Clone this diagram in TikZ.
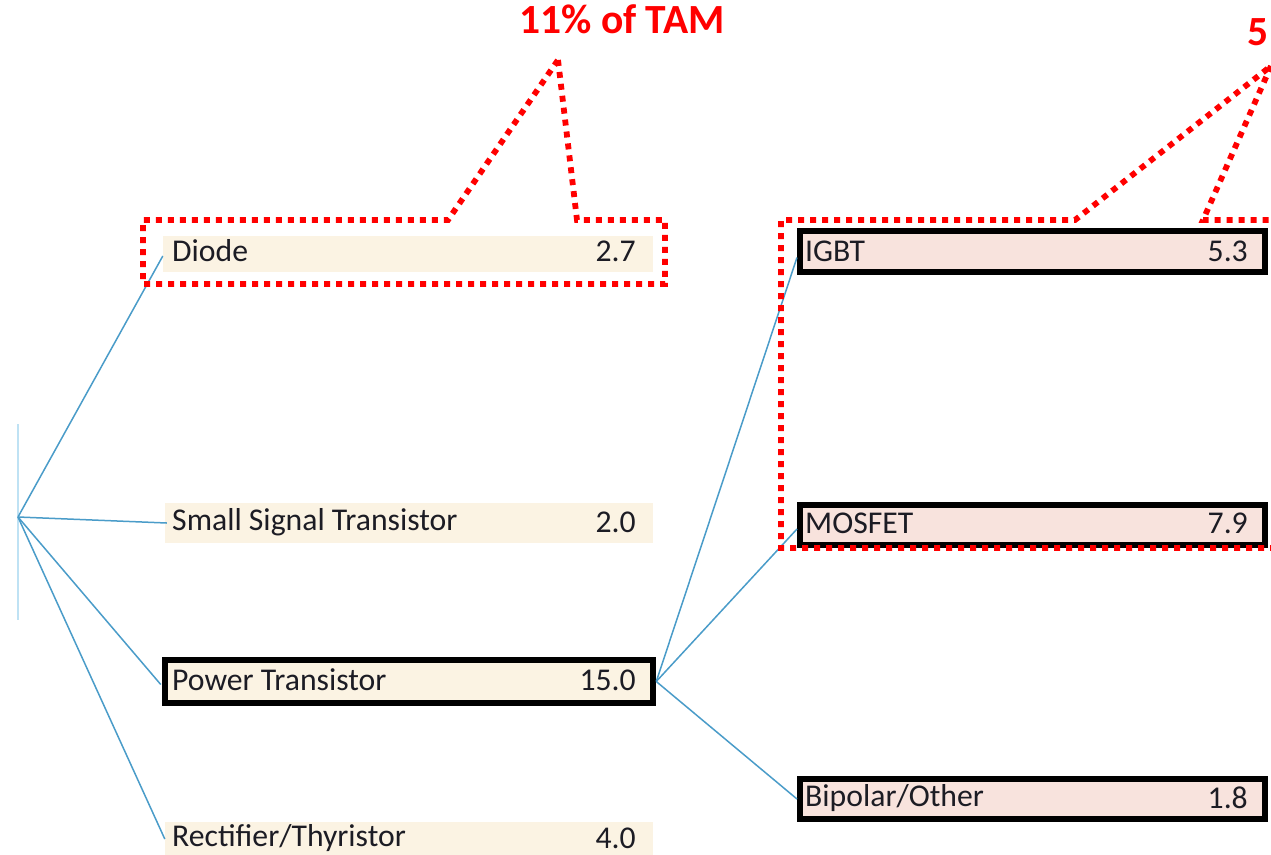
\documentclass[tikz,border=0pt]{standalone}
\usepackage{fontspec}
\setmainfont{Carlito}
\definecolor{cream}{HTML}{FBF3E3}
\definecolor{pinkf}{HTML}{F8E3DD}
\definecolor{conn}{HTML}{4A9CC9}
\definecolor{paleconn}{HTML}{BFE2F4}
\definecolor{txt}{HTML}{1C1C24}
\definecolor{callred}{HTML}{FF0000}
\begin{document}
\begin{tikzpicture}[x=1pt,y=-1pt,
  cbox/.style={rectangle, inner sep=0, fill=cream},
  pbox/.style={rectangle, inner sep=0, fill=pinkf, draw=black, line width=6pt},
  tbox/.style={rectangle, inner sep=0, fill=cream, draw=black, line width=6.5pt},
  lbl/.style={inner sep=0, text=txt, font=\fontsize{31.7}{37}\selectfont},
  wire/.style={draw=conn, line width=1.5pt},
  callout/.style={draw=callred, line width=5.8pt, dash pattern=on 6pt off 6pt},
  title/.style={inner sep=0, text=callred, font=\fontsize{41.5}{48}\selectfont\bfseries}]
\clip (0,0) rectangle (1271,854);
\fill[white] (0,0) rectangle (1271,854);

% pale root line
\coordinate (rtop) at (18,424);
\coordinate (rbot) at (18,620);
\coordinate (hub) at (18,517);
\draw[draw=paleconn, line width=1.2pt] (rtop) -- (rbot);

% left column boxes
\node[cbox, minimum width=490, minimum height=36] (diode) at (408,254) {};
\node[cbox, minimum width=488, minimum height=40] (small) at (409,523) {};
\node[tbox, minimum width=488, minimum height=43] (power) at (409,681.5) {};
\node[cbox, minimum width=488, minimum height=40] (rect) at (409,842) {};

\node[lbl, anchor=west] (diodeL) at (172,251) {Diode};
\node[lbl, anchor=east] (diodeV) at (636,251) {2.7};
\node[lbl, anchor=west] (smallL) at (172,522) {Small Signal Transistor};
\node[lbl, anchor=east] (smallV) at (636,522) {2.0};
\node[lbl, anchor=west] (powerL) at (172,680) {Power Transistor};
\node[lbl, anchor=east] (powerV) at (636,680) {15.0};
\node[lbl, anchor=west] (rectL) at (172,838) {Rectifier/Thyristor};
\node[lbl, anchor=east] (rectV) at (636,838) {4.0};

% right column boxes
\node[pbox, minimum width=465, minimum height=41] (igbt) at (1032.5,251.5) {};
\node[pbox, minimum width=465, minimum height=40] (mosfet) at (1032.5,525) {};
\node[pbox, minimum width=465, minimum height=40] (bipolar) at (1032.5,799) {};

\node[lbl, anchor=west] (igbtL) at (805,251) {IGBT};
\node[lbl, anchor=east] (igbtV) at (1248,251) {5.3};
\node[lbl, anchor=west] (mosL) at (805,523) {MOSFET};
\node[lbl, anchor=east] (mosV) at (1248,523) {7.9};
\node[lbl, anchor=west] (bipL) at (805,798) {Bipolar/Other};
\node[lbl, anchor=east] (bipV) at (1248,798) {1.8};

% connectors
\draw[wire] (hub) -- ([yshift=-2pt]diode.west);
\draw[wire] (hub) -- ([xshift=2pt]small.west);
\draw[wire] (hub) -- ([xshift=-1pt,yshift=-3pt]power.west);
\draw[wire] (hub) -- ([yshift=3pt]rect.west);
\draw[wire] (power.east) -- ([yshift=-6pt]igbt.west);
\draw[wire] (power.east) -- ([yshift=-4pt]mosfet.west);
\draw[wire] (power.east) -- (bipolar.west);

% titles
\node[title, anchor=base] (tam) at (622,33) {11\% of TAM};
\node[title, anchor=base east] (tam2) at (1269,45) {5};

% callouts
\draw[callout] (558,60) -- (577,220) -- (665,220) -- (665,284) -- (143,284) -- (143,220) -- (448,220) -- cycle;
\draw[callout] (1271,66) -- (1203,220) -- (1300,220);
\draw[callout] (1300,548) -- (781,548) -- (781,220) -- (1075,220) -- (1271,66);
\end{tikzpicture}
\end{document}
